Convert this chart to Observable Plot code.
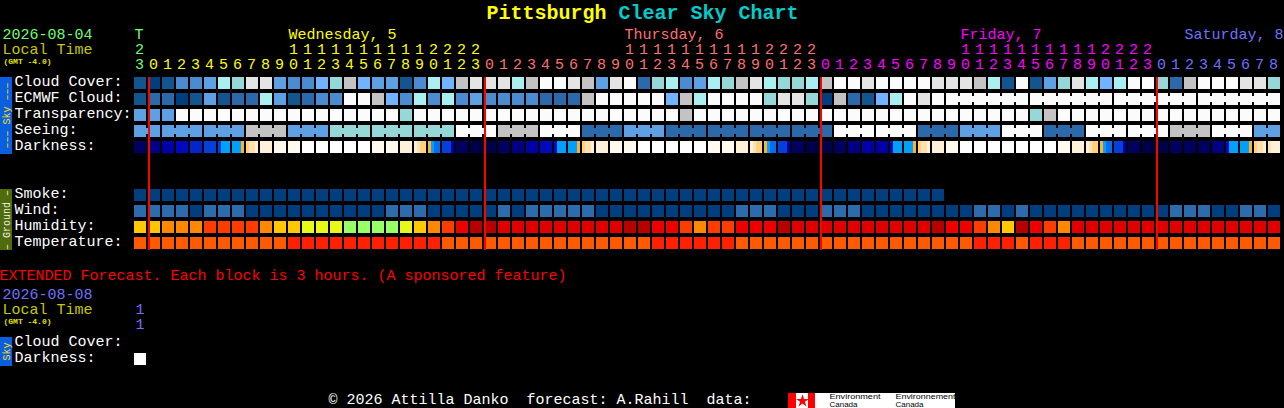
<!DOCTYPE html>
<html>
<head>
<meta charset="utf-8">
<style>html,body{margin:0;padding:0;background:#000;overflow:hidden}svg{display:block}</style>
<script src="https://cdn.jsdelivr.net/npm/d3@7"></script>
<script src="https://cdn.jsdelivr.net/npm/@observablehq/plot@0.6"></script>
</head>
<body>
<script>
// ---- Data (levels) ----
const cloudCover = [1,0,1,3,3,4,6,7,9,9, 4,3,3,5,7,8,5,4,4,1, 3,6,5,8,9,9,9,6,8,10, 10,9,8,4,9,10,2,7,6,3, 4,6,7,8,9,6,7,7,6,8, 10,10,9,10,10,10,10,9,9,9, 8,6,1,10,1,4,7,9,6,5, 6,10,10,7,2,8,10,10,10,9, 9,7];
const ecmwfCloud = [1,2,2,0,1,4,1,2,2,6, 4,1,2,3,3,10,10,8,5,3, 6,3,6,3,4,3,3,3,3,2, 2,2,8,10,10,10,10,10,5,8, 6,10,10,10,10,7,9,9,7,0, 8,2,1,5,6,10,9,10,10,10, 10,10,10,10,10,10,10,10,10,10, 10,10,10,10,10,10,10,10,10,10, 10,10];
const transparency = [4,4,4,10,10,10,10,10,10,10, 10,10,10,10,10,10,10,10,10,7, 10,10,10,10,10,10,10,10,10,10, 10,10,10,10,10,10,10,10,10,8, 10,10,10,10,10,10,10,10,10,10, 10,10,10,10,10,10,10,10,10,10, 10,10,10,10,7,8,10,10,10,10, 10,10,10,10,10,10,10,10,10,10, 10,10];
const seeingBlocks = [4,4,4,8,4,7,7,7,10,8,10,2,4,2,2,2,2,10,10,2,4,10,2,10,10,8,10,4];
const darkness = [1,2,3,4,5,6,null,null,null,12, 13,13,14,14,14,14,14,13,13,12, null,null,null,1,0,0,1,2,3,4, null,null,null,12,13,13,14,14,14,14, 14,13,13,12,null,null,null,1,0,0, 1,2,3,3,null,null,null,12,13,14, 14,14,14,14,14,14,13,12,null,null, null,1,0,0,1,1,1,2,null,null, null,null];
const twilightCols = [6,7,8,20,21,22,30,31,32,44,45,46,54,55,56,68,69,70,78,79,80,81];
const twilightSlices = [[6,8,8,8],[8,8,8,9],[10,11,11,12],[12,11,10,10],[9,8,7,7],[6,6,6,3],[4,8,8,8],[8,8,8,9],[10,11,11,12],[12,11,10,10],[9,8,7,7],[6,6,6,3],[4,8,8,8],[8,8,8,9],[10,11,11,12],[12,11,10,10],[9,8,7,7],[6,6,6,3],[4,8,8,8],[8,8,8,9],[10,11,11,12],[11,12,12,12]];
const smoke = new Array(58).fill(0);
const wind = [10,10,10,10,5,10,10,10,5,5, 5,5,5,5,5,5,5,5,10,10, 10,5,5,5,5,5,10,5,10,10, 10,10,10,5,5,5,5,5,5,5, 5,5,5,10,10,10,5,5,5,10, 10,10,5,5,5,5,5,5,5,5, 10,10,5,10,5,5,5,5,5,5, 5,5,5,5,10,10,10,5,5,10, 10,5];
const humidity = [55,55,65,65,65,75,75,75,75,65, 55,55,45,45,45,35,35,35,35,45, 55,65,75,85,100,100,90,90,90,90, 90,90,90,90,90,100,100,85,85,75, 65,75,75,85,85,85,100,90,90,90, 90,90,90,90,90,90,90,100,85,85, 75,65,55,100,85,75,65,90,90,90, 90,90,90,90,90,90,90,90,90,90, 90,90];
const temperature = [21,21,21,21,21,21,21,21,21,21, 21,27,27,27,27,27,27,27,27,27, 27,27,21,21,21,21,21,21,21,21, 21,21,21,21,21,21,21,27,27,27, 27,27,27,21,21,21,21,21,21,21, 21,21,21,21,21,21,21,21,21,21, 27,27,27,21,27,27,27,21,21,21, 21,21,21,21,21,21,21,21,21,21, 21,21];
const hours = [23, ...d3.range(24), ...d3.range(24), ...d3.range(24), ...d3.range(9)];
const dayOfCol = hours.map((h, i) => i === 0 ? 0 : Math.floor((i - 1) / 24) + 1);
const dayLabels = ["T", "Wednesday, 5", "Thursday, 6", "Friday, 7", "Saturday, 8"];
const dayLabelCols = [0, 11, 35, 59, 75];
const midnightCols = [1, 25, 49, 73];
const skyRowLabels = ["Cloud Cover:", "ECMWF Cloud:", "Transparency:", "Seeing:", "Darkness:"];
const groundRowLabels = ["Smoke:", "Wind:", "Humidity:", "Temperature:"];

// ---- Layout & palettes ----
const W = 1284, H = 408, cw = 14, rh = 16, x0 = 134, y0 = 77;
const px = v => (v - x0) / cw, py = v => (v - y0) / rh;
const skyColors = {0:"#003f7f",1:"#13568f",2:"#2b69ab",3:"#4b8cd0",4:"#5da0e4",5:"#72b3ff",6:"#aaf0f0",7:"#96d8d8",8:"#c3c3c3",9:"#e4e4e4",10:"#fbfbfb"};
const darkColors = {0:"#000048",1:"#000060",2:"#000085",3:"#0000a8",4:"#0008c0",5:"#0425cc",6:"#0640dc",7:"#0070f0",8:"#00a0ff",9:"#ffb030",10:"#ffd080",11:"#ffe2b0",12:"#fff0da",13:"#fff9f0",14:"#ffffff"};
const smokeColors = {0:"#023f7f"};
const windColors = {5:"#003f7f",10:"#2c6cac"};
const humColors = {100:"#b80000",90:"#e00000",85:"#ee0000",75:"#ff3c00",65:"#ff8800",55:"#ffc800",45:"#e8f818",35:"#99ff66"};
const tempColors = {21:"#ff5a00",27:"#ff2000"};
const dayColors = {0:"#70ff70",1:"#ffff00",2:"#ff7070",3:"#ff00ff",4:"#7070ff"};
const palettes = {sky:skyColors,dark:darkColors,smoke:smokeColors,wind:windColors,hum:humColors,temp:tempColors,day:dayColors};
const colorDomain = [], colorRange = [];
for (const [p, m] of Object.entries(palettes)) for (const [k, c] of Object.entries(m)) { colorDomain.push(`${p}:${k}`); colorRange.push(c); }

// ---- Tables ----
const seeing = cloudCover.map((_, i) => seeingBlocks[Math.floor((i + 1) / 3)]);
const cells = [];
const addRow = (values, row, pal) => values.forEach((v, col) => { if (v !== null) cells.push({col, row, key:`${pal}:${v}`}); });
addRow(cloudCover, 0, "sky"); addRow(ecmwfCloud, 1, "sky"); addRow(transparency, 2, "sky"); addRow(seeing, 3, "sky");
addRow(darkness, 4, "dark"); addRow(smoke, 7, "smoke"); addRow(wind, 8, "wind"); addRow(humidity, 9, "hum"); addRow(temperature, 10, "temp");
cells.push({col:0, row:py(353), key:"dark:14"});

const slices = [];
twilightCols.forEach((col, t) => twilightSlices[t].forEach((v, k) => slices.push({col, k, row:4, key:`dark:${v}`})));

const links = [];
seeing.forEach((v, i) => { if (i < 81 && Math.floor((i + 1) / 3) === Math.floor((i + 2) / 3)) links.push({col:i, row:3, key:`sky:${v}`}); });
ecmwfCloud.forEach((v, i) => { if (i >= 58 && i < 81 && Math.floor((i - 58) / 6) === Math.floor((i - 57) / 6)) links.push({col:i, row:1, key:`sky:${v}`}); });

const ones = hours.map((h, col) => ({col, t:String(h % 10), key:`day:${dayOfCol[col]}`}));
const tens = hours.map((h, col) => ({col, t:String(Math.floor(h / 10)), h, key:`day:${dayOfCol[col]}`})).filter(d => d.h >= 10);
const days = dayLabels.map((t, i) => ({t, col:dayLabelCols[i], key:`day:${i}`}));

const mono = "Liberation Mono";
const lbl = (t, x, y, o = {}) => Plot.text([t], {text:d => d, x:px(x - 1), y:py(y - 1), textAnchor:"start", lineAnchor:"middle", fontSize:15, fill:"#fff", fontFamily:mono, ...o});
const strip = (a, b, c) => Plot.rect([0], {x1:px(0), x2:px(12), y1:py(a), y2:py(b), fill:c, shapeRendering:"crispEdges"});
const vert = (t, y, c) => Plot.text([t], {text:d => d, x:px(6), y:py(y), rotate:-90, textAnchor:"middle", lineAnchor:"middle", fontSize:10, fill:c, fontFamily:mono});
const small = {fontFamily:"Liberation Sans", fontSize:7, fill:"#000"};

const chart = Plot.plot({
  width:W, height:H, margin:0,
  x:{domain:[px(0), px(W)], range:[0, W], axis:null},
  y:{domain:[py(0), py(H)], range:[0, H], axis:null},
  color:{type:"ordinal", domain:colorDomain, range:colorRange},
  style:{background:"#000", fontFamily:mono, overflow:"hidden"},
  marks:[
    lbl("Pittsburgh", 487, 13, {fontSize:20, fontWeight:"bold", fill:"#ffff00"}),
    lbl("Clear Sky Chart", 619, 13, {fontSize:20, fontWeight:"bold", fill:"#00cccc"}),
    lbl("2026-08-04", 3, 35, {fill:"#70ff70"}),
    lbl("Local Time", 3, 50, {fill:"#c8c800"}),
    lbl("(GMT -4.0)", 4, 62, {fontSize:8, fill:"#e0e000", fontWeight:"bold"}),
    Plot.text(days, {x:d => d.col, y:py(34), text:"t", fill:"key", textAnchor:"start", lineAnchor:"middle", fontSize:15}),
    Plot.text(tens, {x:d => d.col + 5/cw, y:py(49), text:"t", fill:"key", lineAnchor:"middle", fontSize:15}),
    Plot.text(ones, {x:d => d.col + 5/cw, y:py(64), text:"t", fill:"key", lineAnchor:"middle", fontSize:15}),
    strip(77, 154, "#0a5ee0"),
    vert("––– Sky –––", 115, "#ffe000"),
    strip(189, 250, "#4f6b0a"),
    vert("– Ground –", 219.5, "#eeeeee"),
    strip(337, 366, "#0a5ee0"),
    vert("Sky", 351, "#ffe000"),
    Plot.text(skyRowLabels, {text:d => d, x:px(14), y:(d, i) => i + 3.5/rh, textAnchor:"start", lineAnchor:"middle", fontSize:15, fill:"#fff"}),
    Plot.text(groundRowLabels, {text:d => d, x:px(14), y:(d, i) => i + 7 + 3.5/rh, textAnchor:"start", lineAnchor:"middle", fontSize:15, fill:"#fff"}),
    Plot.rect(cells, {x1:"col", x2:d => d.col + 1, y1:"row", y2:d => d.row + 1, insetRight:2, insetBottom:4, fill:"key", shapeRendering:"crispEdges"}),
    Plot.rect(slices, {x1:d => d.col + d.k * 3/cw, x2:d => d.col + (d.k + 1) * 3/cw, y1:"row", y2:d => d.row + 1, insetBottom:4, fill:"key", shapeRendering:"crispEdges"}),
    Plot.rect(links, {x1:d => d.col + 12/cw, x2:d => d.col + 1, y1:d => d.row + 3/rh, y2:d => d.row + 9/rh, fill:"key", shapeRendering:"crispEdges"}),
    Plot.ruleX(midnightCols, {y1:0, y2:py(249.5), stroke:"#ff0000", strokeWidth:2, shapeRendering:"crispEdges"}),
    lbl("EXTENDED Forecast. Each block is 3 hours. (A sponsored feature)", 1, 276, {fill:"#ff0000", dx:-1}),
    lbl("2026-08-08", 3, 295, {fill:"#7070ff"}),
    lbl("Local Time", 3, 310, {fill:"#c8c800"}),
    lbl("(GMT -4.0)", 4, 322, {fontSize:8, fill:"#e0e000", fontWeight:"bold"}),
    lbl("1", 136, 310, {fill:"#7070ff"}),
    lbl("1", 136, 325, {fill:"#7070ff"}),
    lbl("Cloud Cover:", 15, 341.5),
    lbl("Darkness:", 15, 357.5),
    lbl("© 2026 Attilla Danko  forecast: A.Rahill  data:", 329, 400),
    Plot.rect([0], {x1:px(788), x2:px(955), y1:py(393), y2:py(408), fill:"#fff", shapeRendering:"crispEdges"}),
    Plot.rect([0], {x1:px(788), x2:px(796), y1:py(393), y2:py(408), fill:"#ff0000", shapeRendering:"crispEdges"}),
    Plot.rect([0], {x1:px(808), x2:px(815), y1:py(393), y2:py(408), fill:"#ff0000", shapeRendering:"crispEdges"}),
    Plot.dot([0], {x:px(802), y:py(400.5), symbol:"star", r:4, fill:"#ff0000"}),
    lbl("Environment", 830, 397.5, small),
    lbl("Canada", 830, 405.5, small),
    lbl("Environnement", 896, 397.5, small),
    lbl("Canada", 896, 405.5, small)
  ]
});
chart.querySelectorAll("text").forEach(t => {
  const len = {"Environment":51, "Environnement":60, "Canada":28}[t.textContent];
  if (len) { t.setAttribute("textLength", len); t.setAttribute("lengthAdjust", "spacingAndGlyphs"); }
});
document.body.appendChild(chart);
</script>
</body>
</html>
